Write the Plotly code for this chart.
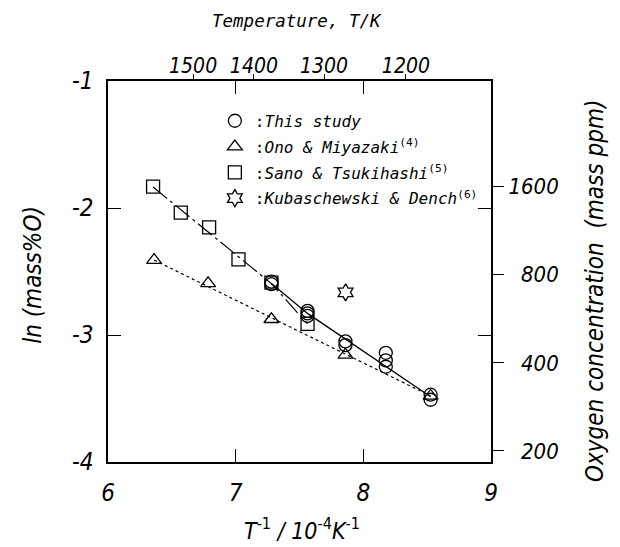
import numpy as np
import plotly.graph_objects as go

# ---- data (x = 1/T in 1e-4 K^-1, y = ln(mass%O)) ----
study_x = [7.28, 7.28, 7.563, 7.563, 7.563, 7.86, 7.86, 8.176, 8.176, 8.176, 8.527, 8.527]
study_y = [-2.58, -2.60, -2.81, -2.83, -2.85, -3.05, -3.08, -3.14, -3.20, -3.25, -3.47, -3.51]

ono_x = [6.361, 6.784, 7.280, 7.860, 8.527]
ono_y = [-2.41, -2.593, -2.876, -3.157, -3.48]

sano_x = [6.353, 6.570, 6.792, 7.022, 7.280, 7.563]
sano_y = [-1.832, -2.037, -2.152, -2.404, -2.588, -2.913]

kuba_x = [7.861]
kuba_y = [-2.664]

study_line_x = [7.28, 7.563, 8.527]
study_line_y = [-2.595, -2.83, -3.486]
sano_line_x = [6.353, 7.28, 7.563]
sano_line_y = [-1.835, -2.595, -2.913]
ono_line_x = [6.361, 8.527]
ono_line_y = [-2.41, -3.48]

temp_ticks = [1500, 1400, 1300, 1200]
ppm_ticks = [200, 400, 800, 1600]
x_ticks = [6, 7, 8, 9]
y_ticks = [-4, -3, -2, -1]

FONT = "DejaVu Sans Condensed, Liberation Sans Narrow, DejaVu Sans, sans-serif"
MONO = "DejaVu Sans Mono, Liberation Mono, monospace"

fig = go.Figure()

# fit lines
fig.add_trace(go.Scatter(x=ono_line_x, y=ono_line_y, mode="lines",
                         line=dict(color="black", width=1.2, dash="dot"), showlegend=False))
fig.add_trace(go.Scatter(x=sano_line_x, y=sano_line_y, mode="lines",
                         line=dict(color="black", width=1.2, dash="18px,4px,3px,4px"), showlegend=False))
fig.add_trace(go.Scatter(x=study_line_x, y=study_line_y, mode="lines",
                         line=dict(color="black", width=1.3), showlegend=False))

mk = dict(color="black", size=13, line=dict(color="black", width=1.3))
fig.add_trace(go.Scatter(x=study_x, y=study_y, mode="markers", name=":<i>This study</i>",
                         legendgroup="a", marker=dict(symbol="circle-open", **mk)))
fig.add_trace(go.Scatter(x=ono_x, y=ono_y, mode="markers", name=":<i>Ono & Miyazaki</i><sup>(4)</sup>",
                         legendgroup="b", marker=dict(symbol="triangle-up-open", **mk)))
fig.add_trace(go.Scatter(x=sano_x, y=sano_y, mode="markers", name=":<i>Sano & Tsukihashi</i><sup>(5)</sup>",
                         legendgroup="c", marker=dict(symbol="square-open", **mk)))
fig.add_trace(go.Scatter(x=kuba_x, y=kuba_y, mode="markers", name=":<i>Kubaschewski & Dench</i><sup>(6)</sup>",
                         legendgroup="d", marker=dict(symbol="hexagram-open", color="black", size=13,
                                                      line=dict(color="black", width=1.3))))

# secondary axes (top temperature, right ppm)
fig.add_trace(go.Scatter(x=[6, 9], y=[-4, -1], xaxis="x2", yaxis="y2", mode="markers",
                         marker=dict(opacity=0), showlegend=False, hoverinfo="skip"))

# page body has an 8px margin, so the figure is 8px smaller than the window
fig.update_layout(
    width=612, height=539,
    margin=dict(l=100, r=129, t=73, b=85, autoexpand=False),
    paper_bgcolor="white", plot_bgcolor="white",
    font=dict(family=FONT, color="black"),
    showlegend=True,
    legend=dict(x=0.279, y=0.94, xanchor="left", yanchor="top",
                font=dict(family=MONO, size=16, color="black"),
                bgcolor="rgba(0,0,0,0)", itemwidth=30, tracegroupgap=2),
    xaxis=dict(range=[6, 9], tickvals=x_ticks, ticktext=[f"<i>{v}</i>" for v in x_ticks],
               ticks="inside", ticklen=13, tickwidth=1.2, tickcolor="black", ticklabelstandoff=8,
               showline=True, linecolor="black", linewidth=1.5, mirror="ticks", automargin=False,
               showgrid=False, zeroline=False, tickfont=dict(size=24, family=FONT)),
    yaxis=dict(range=[-4, -1], tickvals=y_ticks, ticktext=[f"<i>{v}</i>" for v in y_ticks],
               ticks="inside", ticklen=13, tickwidth=1.2, tickcolor="black", ticklabelstandoff=8,
               showline=True, linecolor="black", linewidth=1.5, mirror="ticks", automargin=False,
               showgrid=False, zeroline=False, tickfont=dict(size=24, family=FONT)),
    xaxis2=dict(range=[6, 9], overlaying="x", side="top",
                tickvals=[1e4 / t for t in temp_ticks], ticktext=[f"<i>{t}</i>" for t in temp_ticks],
                ticks="outside", ticklen=6, tickwidth=1.2, tickcolor="black", automargin=False,
                ticklabelstandoff=-7,
                showline=False, showgrid=False, zeroline=False, tickfont=dict(size=21, family=FONT)),
    yaxis2=dict(range=[-4, -1], overlaying="y", side="right",
                tickvals=[float(np.log(p / 1e4)) for p in ppm_ticks],
                ticktext=[f"<i>{p}</i>" if p >= 1000 else f"\u2007<i>{p}</i>" for p in ppm_ticks],
                ticks="outside", ticklen=12, tickwidth=1.2, tickcolor="black", automargin=False,
                showline=False, showgrid=False, zeroline=False, tickfont=dict(size=22, family=FONT)),
    annotations=[
        dict(text="<i>Temperature, T/K</i>", x=0.494, y=1.19, xref="paper", yref="paper",
             xanchor="center", yanchor="top",
             showarrow=False, font=dict(size=17.5, family=MONO)),
        dict(text="<i>T</i><sup>-1</sup><i> / 10</i><sup>-4</sup><i>K</i><sup>-1</sup>",
             x=0.507, y=-0.13, xref="paper", yref="paper", xanchor="center", yanchor="top",
             showarrow=False, font=dict(size=23, family=FONT)),
        dict(text="<i>ln (mass%O)</i>", x=-0.196, y=0.491, xref="paper", yref="paper",
             xanchor="center", yanchor="middle",
             textangle=-90, showarrow=False, font=dict(size=24, family=FONT)),
        dict(text="<i>Oxygen concentration  (mass ppm)</i>", x=1.2715, y=0.449, xref="paper", yref="paper",
             xanchor="center", yanchor="middle",
             textangle=-90, showarrow=False, font=dict(size=24, family=FONT)),
    ],
)

fig.write_html("out.html")
